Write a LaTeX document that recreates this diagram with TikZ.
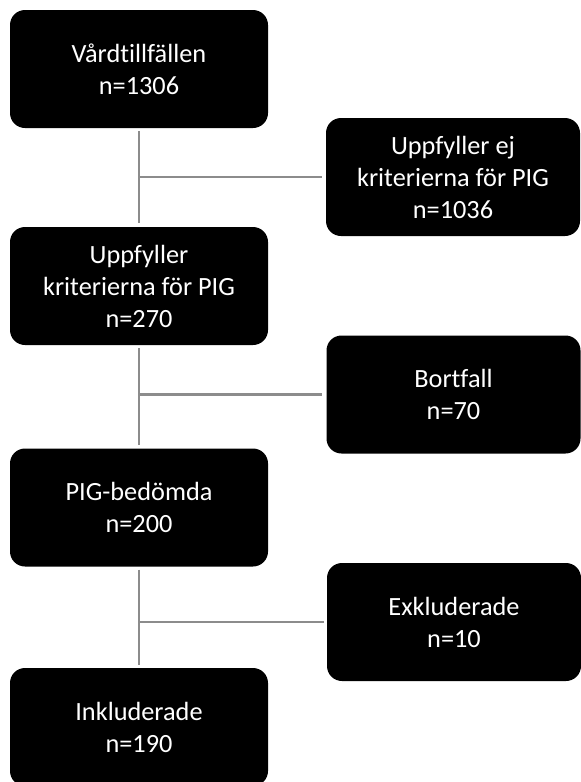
\documentclass[tikz,border=0pt]{standalone}
\usepackage{fontspec}
\setmainfont{Carlito}[Ligatures={NoCommon,NoRare,NoContextual}]
\begin{document}
\begin{tikzpicture}[x=1pt,y=-1pt,
  box/.style={draw=none,fill=black,rounded corners=15pt,text=white,align=center,
    inner sep=0pt,minimum height=118pt,font=\fontsize{26.3}{32}\selectfont},
  lbox/.style={box,minimum width=258pt},
  rbox/.style={box,minimum width=254pt},
  conn/.style={draw=black!45,line width=2.5pt}]
\useasboundingbox (0,0) rectangle (581,782);
\node[lbox] (b1) at (139,69) {Vårdtillfällen\\n=1306};
\node[lbox] (b2) at (139,286) {Uppfyller\\kriterierna för PIG\\n=270};
\node[lbox] (b3) at (139,507.5) {PIG-bedömda\\n=200};
\node[lbox] (b4) at (139,727) {Inkluderade\\n=190};
\node[rbox] (r1) at (453,177) {Uppfyller ej\\kriterierna för PIG\\n=1036};
\node[rbox] (r2) at (453.5,394.5) {Bortfall\\n=70};
\node[rbox] (r3) at (454,622) {Exkluderade\\n=10};
\coordinate (j1) at (b1.south |- r1.west);
\coordinate (j2) at (b2.south |- r2.west);
\coordinate (j3) at (b3.south |- r3.west);
\draw[conn,shorten <=3pt,shorten >=4pt] (b1.south) -- (b2.north);
\draw[conn,shorten <=3pt,shorten >=3pt] (b2.south) -- (b3.north);
\draw[conn,shorten <=3pt,shorten >=3pt] (b3.south) -- (b4.north);
\draw[conn,shorten >=4pt] (j1) -- (r1.west);
\draw[conn,shorten >=4pt] (j2) -- (r2.west);
\draw[conn,shorten >=3pt] (j3) -- (r3.west);
\end{tikzpicture}
\end{document}
